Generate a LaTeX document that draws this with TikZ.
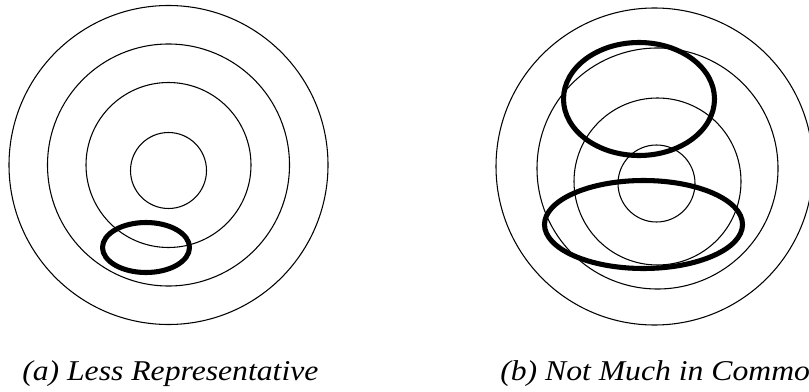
\documentclass[tikz,border=0pt]{standalone}
\usepackage{fontspec}
\setmainfont{Liberation Serif}
\usetikzlibrary{calc}

\begin{document}
\begin{tikzpicture}[x=0.75pt, y=-0.75pt, line join=round,
    ring/.style={line width=0.8pt},
    blob/.style={line width=3.8pt},
    caption/.style={anchor=base west, inner sep=0pt,
      font=\fontsize{21.5}{24}\selectfont\itshape}]
  \useasboundingbox (0,0) rectangle (809,392);

  % Panel (a): target rings
  \coordinate (Ca) at (168.5,165);
  \draw[ring] (Ca) circle[radius=159.5];
  \draw[ring] (Ca) circle[radius=121];
  \draw[ring] (Ca) circle[radius=82.5];
  \draw[ring] ($(Ca)+(0,5.5)$) circle[radius=38];
  % small cluster near the bottom
  \draw[blob] (146,247.5) ellipse[x radius=43.5, y radius=25];

  % Panel (b): rings drift downwards
  \coordinate (Cb) at (654.5,166.5);
  \draw[ring] (Cb) circle[radius=158.5];
  \draw[ring] ($(Cb)+(3,2)$) circle[radius=120.5];
  \draw[ring] ($(Cb)+(3,15)$) circle[radius=83.5];
  \draw[ring] ($(Cb)+(2,17)$) circle[radius=38.5];
  % two large clusters
  \draw[blob] (639,99) ellipse[x radius=75.5, y radius=56.5];
  \draw[blob] (643.5,224.5) ellipse[x radius=99, y radius=44];

  % Captions
  \node[caption] (capA) at (22,380) {\scalebox{1.105}[1]{(a) Less Representative}};
  \node[caption] (capB) at (500,380) {\scalebox{1.105}[1]{(b) Not Much in Commo}};
\end{tikzpicture}
\end{document}
